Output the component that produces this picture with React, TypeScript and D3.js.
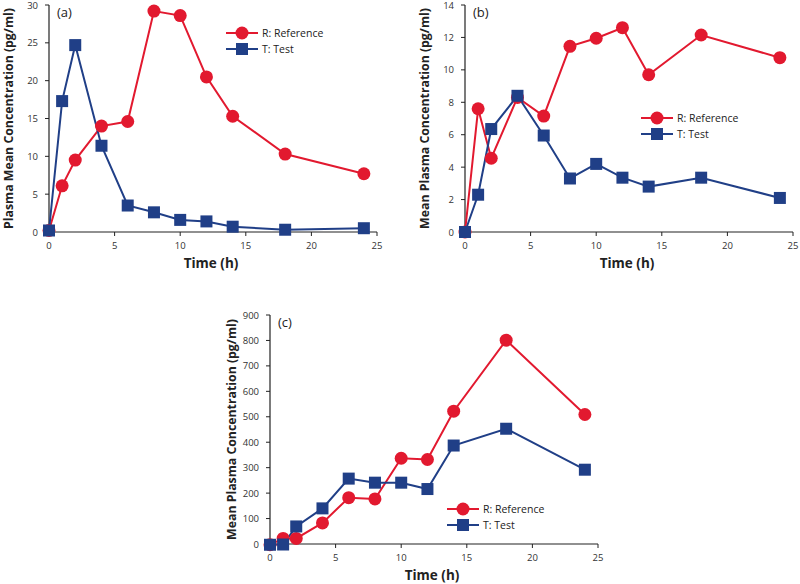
import * as React from 'react';
import * as d3 from 'd3';

// sampling times (h)
const times = [0, 1, 2, 4, 6, 8, 10, 12, 14, 18, 24];

// panel (a)
const refA = [0.2, 6.1, 9.5, 14.0, 14.6, 29.2, 28.6, 20.5, 15.3, 10.3, 7.7];
const testA = [0.2, 17.3, 24.7, 11.4, 3.5, 2.6, 1.6, 1.4, 0.7, 0.3, 0.5];

// panel (b)
const refB = [0, 7.6, 4.55, 8.3, 7.15, 11.45, 11.95, 12.6, 9.7, 12.15, 10.75];
const testB = [0, 2.3, 6.35, 8.4, 5.95, 3.3, 4.2, 3.35, 2.8, 3.35, 2.1];

// panel (c)
const refC = [-3, 22, 22, 83, 182, 177, 337, 332, 522, 801, 509];
const testC = [-3, -2, 69, 140, 257, 241, 241, 216, 387, 453, 292];

const xTicks = [0, 5, 10, 15, 20, 25];

const RED = '#e2192f';
const BLUE = '#203f87';
const FONT = '"Open Sans", "DejaVu Sans", sans-serif';

type PanelProps = {
  tag: string;
  refVals: number[];
  test: number[];
  yMax: number;
  yStep: number;
  x0: number;
  x1: number;
  yTop: number;
  yBottom: number;
  yLabel: string;
  yLabelX: number;
  legX: number;
  legY: number;
};

const Panel = (p: PanelProps) => {
  const x = d3.scaleLinear().domain([0, 25]).range([p.x0, p.x1]);
  const y = d3.scaleLinear().domain([0, p.yMax]).range([p.yBottom, p.yTop]);
  const yTicks = d3.range(0, p.yMax + p.yStep / 2, p.yStep);
  const line = d3.line<number>().x((d, i) => x(times[i])).y(d => y(d));
  const sq = 12;

  return (
    <g>
      {/* axes */}
      <line x1={p.x0} x2={p.x1} y1={p.yBottom} y2={p.yBottom} stroke="#222" strokeWidth={1.2} />
      <line x1={p.x0} x2={p.x0} y1={p.yTop} y2={p.yBottom} stroke="#222" strokeWidth={1.2} />
      {xTicks.map(t => (
        <g key={'x' + t}>
          <line x1={x(t)} x2={x(t)} y1={p.yBottom} y2={p.yBottom + 4} stroke="#222" />
          <text x={x(t)} y={p.yBottom + 17} textAnchor="middle" fontSize={9.5} fill="#333" fontFamily={FONT}>{t}</text>
        </g>
      ))}
      {yTicks.map(t => (
        <g key={'y' + t}>
          <line x1={p.x0 - 4} x2={p.x0} y1={y(t)} y2={y(t)} stroke="#222" />
          <text x={p.x0 - 11} y={y(t) + 3.5} textAnchor="end" fontSize={9.5} fill="#333" fontFamily={FONT}>{t}</text>
        </g>
      ))}
      <text x={p.x0 + 8} y={p.yTop + 12} fontSize={13} fill="#222" fontFamily={FONT}>{p.tag}</text>
      <text x={(p.x0 + p.x1) / 2 - 2} y={p.yBottom + 36} textAnchor="middle" fontSize={13.5} fontWeight="bold" fill="#222" fontFamily={FONT}>Time (h)</text>
      <text transform={`translate(${p.yLabelX},${(p.yTop + p.yBottom) / 2}) rotate(-90)`} textAnchor="middle" fontSize={12.3} fontWeight="bold" fill="#222" fontFamily={FONT}>{p.yLabel}</text>

      {/* series */}
      <path d={line(p.refVals) || ''} fill="none" stroke={RED} strokeWidth={2} />
      <path d={line(p.test) || ''} fill="none" stroke={BLUE} strokeWidth={2} />
      {p.refVals.map((v, i) => (
        <circle key={'r' + i} cx={x(times[i])} cy={y(v)} r={6.5} fill={RED} />
      ))}
      {p.test.map((v, i) => (
        <rect key={'t' + i} x={x(times[i]) - sq / 2} y={y(v) - sq / 2} width={sq} height={sq} fill={BLUE} />
      ))}

      {/* legend */}
      <line x1={p.legX} x2={p.legX + 32} y1={p.legY} y2={p.legY} stroke={RED} strokeWidth={2} />
      <circle cx={p.legX + 16} cy={p.legY} r={6.5} fill={RED} />
      <text x={p.legX + 36} y={p.legY + 4} fontSize={10.5} fill="#222" fontFamily={FONT}>R: Reference</text>
      <line x1={p.legX} x2={p.legX + 32} y1={p.legY + 16} y2={p.legY + 16} stroke={BLUE} strokeWidth={2} />
      <rect x={p.legX + 10} y={p.legY + 10} width={12} height={12} fill={BLUE} />
      <text x={p.legX + 36} y={p.legY + 20} fontSize={10.5} fill="#222" fontFamily={FONT}>T: Test</text>
    </g>
  );
};

const App = () => (
  <svg width={800} height={584} style={{ position: 'absolute', left: 0, top: 0, background: '#fff' }}>
    <Panel tag="(a)" refVals={refA} test={testA} yMax={30} yStep={5}
      x0={49} x1={377} yTop={5} yBottom={232}
      yLabel="Plasma Mean Concentration (pg/ml)" yLabelX={13} legX={226} legY={33} />
    <Panel tag="(b)" refVals={refB} test={testB} yMax={14} yStep={2}
      x0={465} x1={793} yTop={5} yBottom={232}
      yLabel="Mean Plasma Concentration (pg/ml)" yLabelX={429} legX={641} legY={118} />
    <Panel tag="(c)" refVals={refC} test={testC} yMax={900} yStep={100}
      x0={270} x1={598} yTop={315} yBottom={544}
      yLabel="Mean Plasma Concentration (pg/ml)" yLabelX={236} legX={447} legY={509} />
  </svg>
);

export default App;
